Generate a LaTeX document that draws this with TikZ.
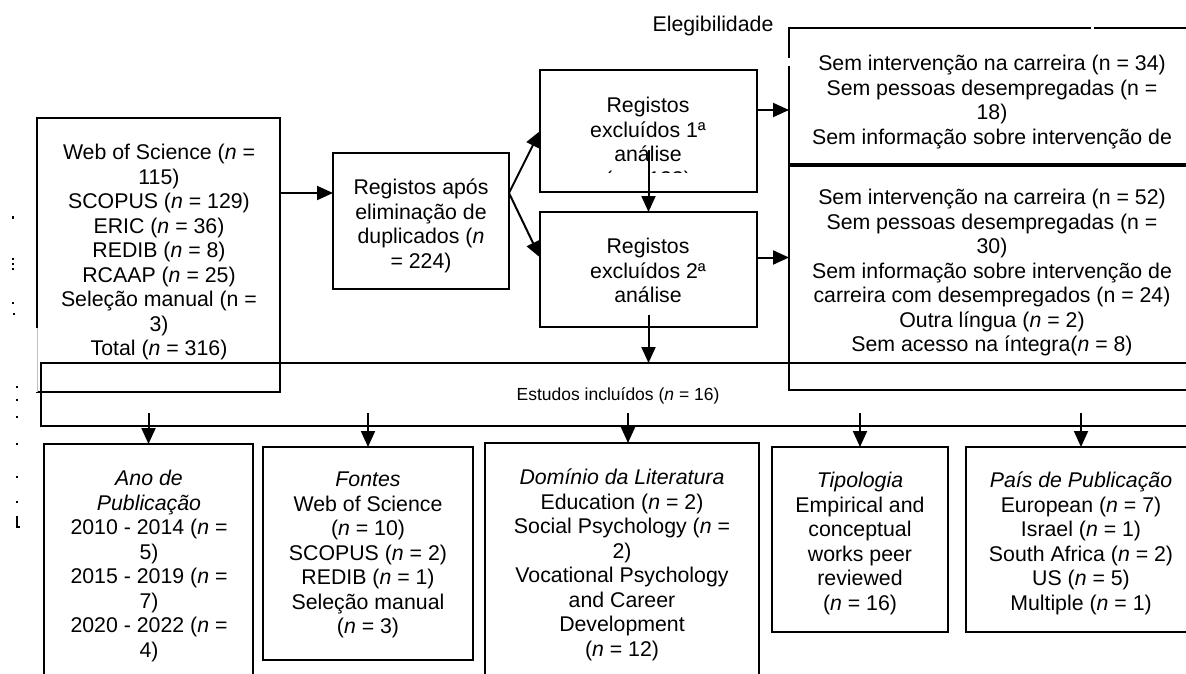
\documentclass[tikz,border=0pt]{standalone}
\usepackage{fontspec}
\setmainfont{Liberation Sans}
\usetikzlibrary{arrows.meta}
\newcommand\fsz{\fontsize{21.3}{24.5}\selectfont}
\newcommand\fsm{\fontsize{17.5}{20}\selectfont}
\newcommand\nn{\textit{n}}
\begin{document}
\begin{tikzpicture}[x=1pt,y=-1pt,
  box/.style={draw,line width=2pt,inner sep=0pt,outer sep=0pt,rectangle},
  txt/.style={font=\fsz,align=center,inner sep=0pt,anchor=north},
  arr/.style={line width=2pt,-{Triangle[length=16pt,width=14pt]}},
  mark/.style={fill=black}
  ]
\useasboundingbox (0,0) rectangle (1186,674);
\clip (0,0) rectangle (1186,674);
\fill[white] (0,0) rectangle (1186,674);

% boxes
\node[box,minimum width=243pt,minimum height=274pt,anchor=north west] (src) at (37,118) {};
\node[box,minimum width=176pt,minimum height=136pt,anchor=north west] (dup) at (333,153) {};
\node[box,minimum width=217pt,minimum height=122pt,anchor=north west] (reg1) at (540,70) {};
\node[box,minimum width=217pt,minimum height=115pt,anchor=north west] (reg2) at (540,212) {};
\node[box,minimum width=420pt,minimum height=136pt,anchor=north west] (ex1) at (789,28) {};
\node[box,minimum width=420pt,minimum height=224pt,anchor=north west] (ex2) at (789,166) {};
\node[box,minimum width=1159pt,minimum height=63pt,anchor=north west] (est) at (41,363) {};
\node[box,minimum width=209pt,minimum height=250pt,anchor=north west] (ano) at (44,444) {};
\node[box,minimum width=210pt,minimum height=213pt,anchor=north west] (fon) at (263,447) {};
\node[box,minimum width=274pt,minimum height=250pt,anchor=north west] (dom) at (485,443) {};
\node[box,minimum width=176pt,minimum height=185pt,anchor=north west] (tip) at (772,447) {};
\node[box,minimum width=230pt,minimum height=185pt,anchor=north west] (pais) at (966,447) {};

% lighter lower part of the source box's left edge
\draw[white,line width=2.8pt] (37,328) -- (37,392);
\draw[black!25,line width=1pt] (37,328) -- (37,392);
% small gaps in the first exclusion box
\fill[white] (1091,24) rectangle (1094,33);
\fill[white] (785,58) rectangle (793,66);

% texts
\node[txt] (srct) at (159,144) {Web of Science (\nn{} =\\115)\\SCOPUS (\nn{} = 129)\\ERIC (\nn{} = 36)\\REDIB (\nn{} = 8)\\RCAAP (\nn{} = 25)\\Seleção manual (n =\\3)\\Total (\nn{} = 316)};
\node[txt] (dupt) at (421,179) {Registos após\\eliminação de\\duplicados (\nn\\= 224)};
\begin{scope}
\clip (542,72) rectangle (755,172);
\node[txt] (reg1t) at (648,97) {Registos\\excluídos 1ª\\análise\\(\nn{} = 133)};
\end{scope}
\node[txt] (reg2t) at (648,238) {Registos\\excluídos 2ª\\análise};
\node[txt] (ex1t) at (992,55) {Sem intervenção na carreira (n = 34)\\Sem pessoas desempregadas (n =\\18)\\Sem informação sobre intervenção de};
\node[txt] (ex2t) at (992,189) {Sem intervenção na carreira (n = 52)\\Sem pessoas desempregadas (n =\\30)\\Sem informação sobre intervenção de\\carreira com desempregados (n = 24)\\Outra língua (\nn{} = 2)\\Sem acesso na íntegra(\nn{} = 8)};
\node[font=\fsz,inner sep=0pt,anchor=base] (eleg) at (713,32) {Elegibilidade};
\node[font=\fsm,inner sep=0pt,anchor=base] (estt) at (618,400.5) {Estudos incluídos (\nn{} = 16)};

\node[txt] (anot) at (149,470) {\textit{Ano de}\\\textit{Publicação}\\2010 - 2014 (\nn{} =\\5)\\2015 - 2019 (\nn{} =\\7)\\2020 - 2022 (\nn{} =\\4)};
\node[txt] (font) at (368,472) {\textit{Fontes}\\Web of Science\\(\nn{} = 10)\\SCOPUS (\nn{} = 2)\\REDIB (\nn{} = 1)\\Seleção manual\\(\nn{} = 3)};
\node[txt] (domt) at (622,469) {\textit{Domínio da Literatura}\\Education (\nn{} = 2)\\Social Psychology (\nn{} =\\2)\\Vocational Psychology\\and Career\\Development\\(\nn{} = 12)};
\node[txt] (tipt) at (860,472) {\textit{Tipologia}\\Empirical and\\conceptual\\works peer\\reviewed\\(\nn{} = 16)};
\node[txt] (paist) at (1081,472) {\textit{País de Publicação}\\European (\nn{} = 7)\\Israel (\nn{} = 1)\\South Africa (\nn{} = 2)\\US (\nn{} = 5)\\Multiple (\nn{} = 1)};

% connectors
\coordinate (d0) at ([yshift=28pt]dup.west);
\draw[arr] (d0 -| src.east) -- (d0);
\coordinate (d1) at ([yshift=28pt]dup.east);
\draw[arr] (d1) -- (reg1.west);
\draw[arr] (d1) -- ([yshift=12pt]reg2.west);
\coordinate (r1) at ([yshift=21pt]reg1.east);
\draw[arr] (r1) -- (r1 -| ex1.west);
\coordinate (r2) at ([yshift=12pt]reg2.east);
\draw[arr] (r2) -- (r2 -| ex2.west);
\draw[arr] ([yshift=-19pt]reg1.center) -- (reg2.north);
\coordinate (r3) at ([yshift=12pt]reg2.south);
\draw[arr] (r3) -- (r3 |- est.north);

\coordinate (stub) at (0,413);
\draw[arr] (ano.north |- stub) -- (ano.north);
\draw[arr] (fon.north |- stub) -- (fon.north);
\coordinate (dm) at ([xshift=6pt]dom.north);
\draw[arr] (dm |- stub) -- (dm);
\draw[arr] (tip.north |- stub) -- (tip.north);
\draw[arr] (pais.north |- stub) -- (pais.north);

% stray marks at the left margin
\fill (12,216) rectangle (14,219);
\fill (12,258) rectangle (14,260);
\fill (12,263) rectangle (14,265);
\fill (12,268) rectangle (14,270);
\fill (12,302) rectangle (14,304);
\fill (13,313) rectangle (15,315);
\fill (16,386) rectangle (18,388);
\fill (16,399) rectangle (18,401);
\fill (16,416) rectangle (18,418);
\fill (16,443) rectangle (18,445);
\fill (16,476) rectangle (18,478);
\fill (16,501) rectangle (18,503);
\fill (16,516) rectangle (17.5,528);
\fill (16,526) rectangle (20,528);
\end{tikzpicture}
\end{document}
